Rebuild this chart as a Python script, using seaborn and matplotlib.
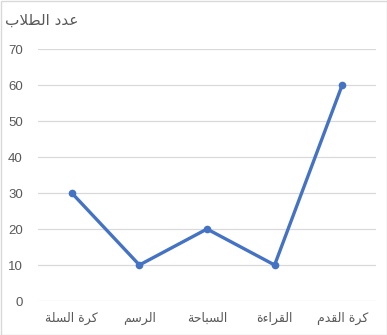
import matplotlib
matplotlib.use("Agg")
import matplotlib.pyplot as plt
import seaborn as sns
import pandas as pd
from matplotlib.patches import Rectangle

title = "عدد الطلاب"
categories = ["كرة السلة", "الرسم", "السباحة", "القراءة", "كرة القدم"]
values = [30, 10, 20, 10, 60]
yticks = [0, 10, 20, 30, 40, 50, 60, 70]

# Minimal Arabic shaping (matplotlib has no complex text layout)
FORMS = {
    "ا": ("\uFE8D", "\uFE8E", None, None),
    "ب": ("\uFE8F", "\uFE90", "\uFE91", "\uFE92"),
    "ة": ("\uFE93", "\uFE94", None, None),
    "ح": ("\uFEA1", "\uFEA2", "\uFEA3", "\uFEA4"),
    "د": ("\uFEA9", "\uFEAA", None, None),
    "ر": ("\uFEAD", "\uFEAE", None, None),
    "س": ("\uFEB1", "\uFEB2", "\uFEB3", "\uFEB4"),
    "ط": ("\uFEC1", "\uFEC2", "\uFEC3", "\uFEC4"),
    "ع": ("\uFEC9", "\uFECA", "\uFECB", "\uFECC"),
    "ق": ("\uFED5", "\uFED6", "\uFED7", "\uFED8"),
    "ك": ("\uFED9", "\uFEDA", "\uFEDB", "\uFEDC"),
    "ل": ("\uFEDD", "\uFEDE", "\uFEDF", "\uFEE0"),
    "م": ("\uFEE1", "\uFEE2", "\uFEE3", "\uFEE4"),
    "ء": ("\uFE80", None, None, None),
}


def dual(c):
    return c in FORMS and FORMS[c][2] is not None


def joins(c):
    return c in FORMS and FORMS[c][1] is not None


def shape(text):
    # lam-alef ligature
    chars = []
    i = 0
    while i < len(text):
        if text[i] == "ل" and i + 1 < len(text) and text[i + 1] == "ا":
            chars.append("LA")
            i += 2
        else:
            chars.append(text[i])
            i += 1
    out = []
    for k, c in enumerate(chars):
        prev = chars[k - 1] if k > 0 else None
        nxt = chars[k + 1] if k + 1 < len(chars) else None
        jp = prev is not None and prev != "LA" and dual(prev)
        if c == "LA":
            out.append("\uFEFC" if jp else "\uFEFB")
            continue
        if c not in FORMS:
            out.append(c)
            continue
        jn = nxt is not None and (joins(nxt) or nxt == "LA") and dual(c)
        iso, fin, ini, med = FORMS[c]
        if jp and jn:
            out.append(med)
        elif jp and fin:
            out.append(fin)
        elif jn:
            out.append(ini)
        else:
            out.append(iso)
    return "".join(out)[::-1]


sns.set_theme(style="white")
plt.rcParams["font.family"] = ["Liberation Sans", "DejaVu Sans"]

fig = plt.figure(figsize=(3.87, 3.35), dpi=100)
ax = fig.add_axes([38 / 387, 1 - 301 / 335, (376 - 38) / 387, (301 - 49) / 335])

df = pd.DataFrame({"cat": categories, "val": values})
sns.lineplot(data=df, x="cat", y="val", sort=False, ax=ax, color="#4472C4",
             linewidth=2.4, marker="o", markersize=5.5, markeredgewidth=0)

ax.set_xlim(-0.5, len(categories) - 0.5)
ax.set_ylim(0, 70)
ax.set_yticks(yticks)
ax.set_yticklabels([str(t) for t in yticks], color="#595959", fontsize=9.5)
ax.set_xticks(range(len(categories)))
ax.set_xticklabels([shape(c) for c in categories], color="#595959", fontsize=9,
                   family=["DejaVu Sans"])
ax.tick_params(axis="y", length=0, pad=11)
ax.tick_params(axis="x", length=0, pad=8)
ax.grid(axis="y", color="#D9D9D9", linewidth=0.9)
ax.set_axisbelow(True)
for s in ax.spines.values():
    s.set_visible(False)
ax.set_xlabel("")
ax.set_ylabel("")

fig.text(5 / 387, 1 - 20 / 335, shape(title), ha="left", va="center",
         fontsize=11, color="#595959", family=["DejaVu Sans"])

fig.patches.append(Rectangle((0.5 / 387, 0.5 / 335), 1 - 1 / 387, 1 - 1 / 335,
                             transform=fig.transFigure, fill=False,
                             edgecolor="#D9D9D9", linewidth=1))

fig.savefig("out.png", dpi=100)
